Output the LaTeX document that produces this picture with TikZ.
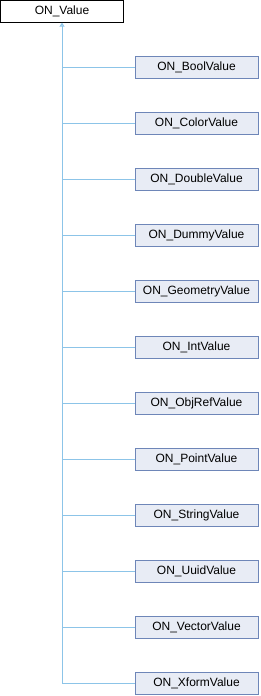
\documentclass[tikz,border=0pt]{standalone}
\usepackage{fontspec}
\setmainfont{Liberation Sans}
\usetikzlibrary{arrows.meta}

\definecolor{edgeblue}{HTML}{8CC4E8}
\definecolor{boxfill}{HTML}{E8ECF5}
\definecolor{boxline}{HTML}{6E86B8}

\begin{document}
\begin{tikzpicture}[x=1pt, y=-1pt,
  base/.style={draw=black, fill=white, minimum width=123pt, minimum height=22pt,
    inner sep=0pt, font=\fontsize{12}{14}\selectfont},
  derived/.style={base, draw=boxline, fill=boxfill},
  inherit/.style={draw=edgeblue, line width=1pt}]
  \useasboundingbox (0,0) rectangle (260,696);

  % Base class
  \node[base] (value) at (62,11.5) {ON\_Value};

  % Derived classes
  \foreach \i/\name in {1/Bool, 2/Color, 3/Double, 4/Dummy, 5/Geometry, 6/Int,
      7/ObjRef, 8/Point, 9/String, 10/Uuid, 11/Vector, 12/Xform} {
    \node[derived] (d\i) at (196.5, {11.5+56*\i}) {ON\_\name Value};
  }

  % Inheritance trunk and branches
  \coordinate (trunk) at (value.south |- d12);
  \draw[inherit, -{Triangle[open, length=4pt, width=5pt]}] (trunk) -- (value.south);
  \foreach \i in {1,...,12}
    \draw[inherit] (value.south |- d\i) -- (d\i.west);
\end{tikzpicture}
\end{document}
